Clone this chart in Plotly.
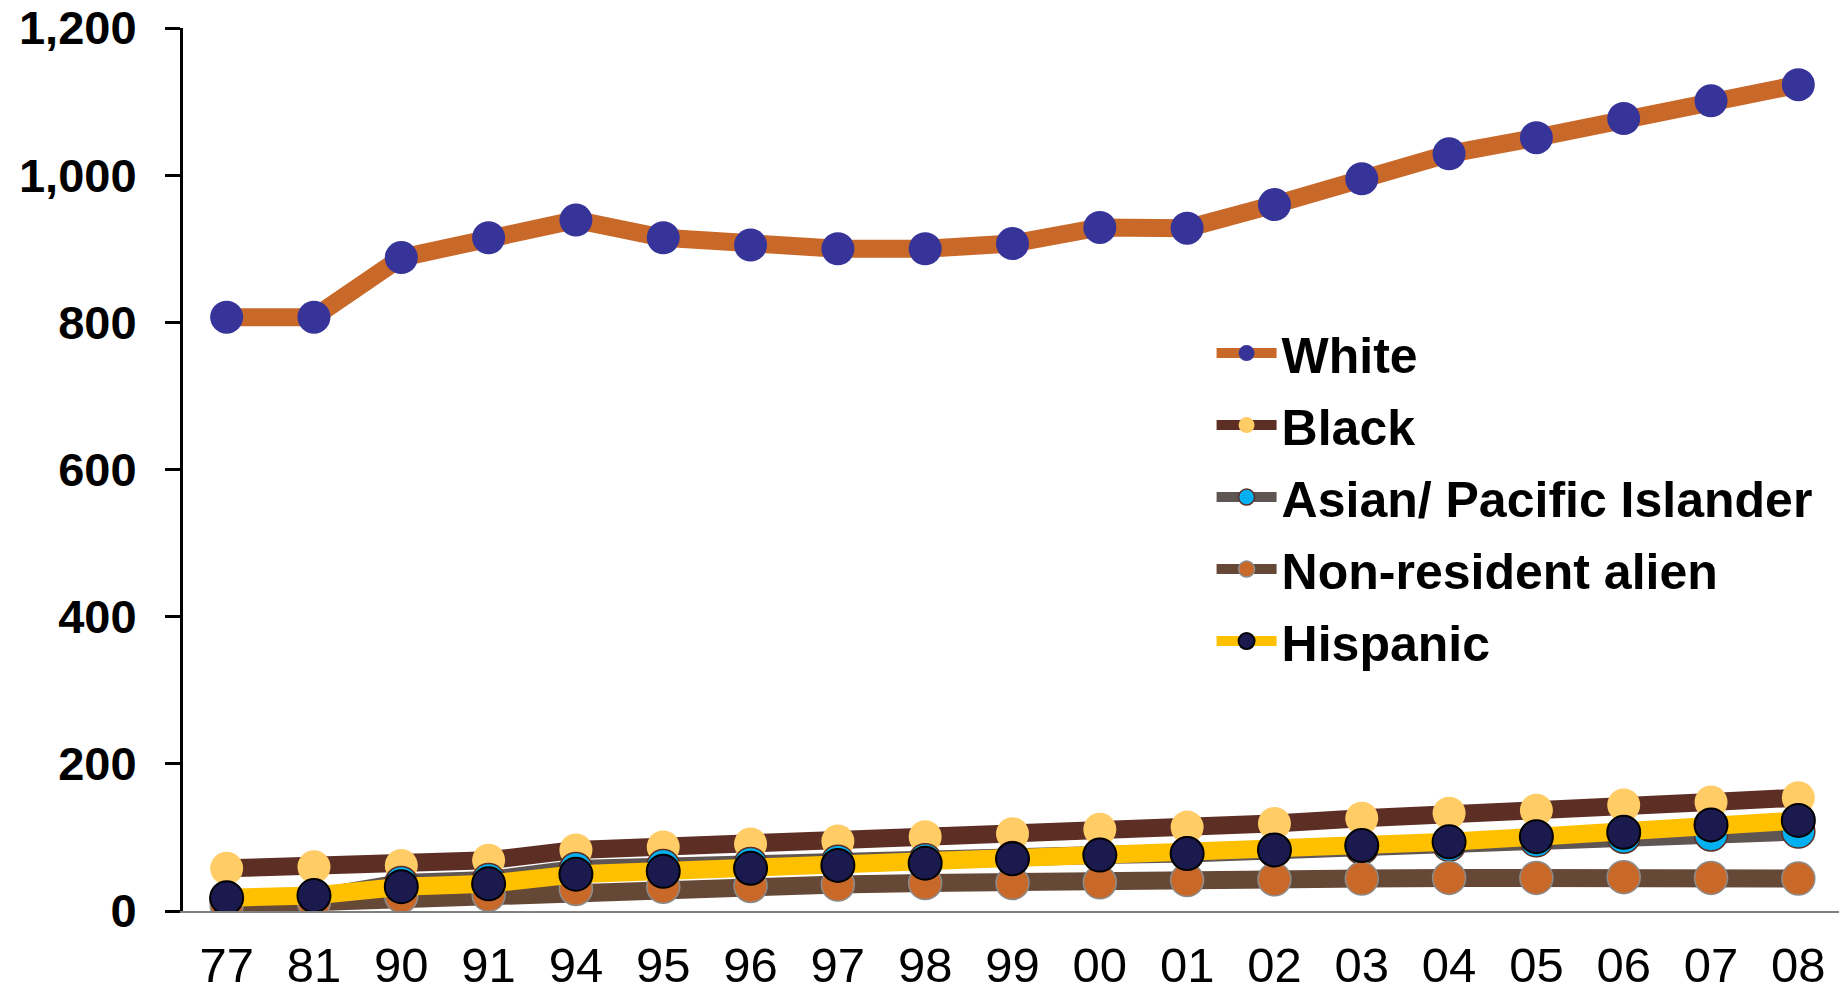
import plotly.graph_objects as go

# années (deux chiffres) et effectifs par groupe
years = ["77", "81", "90", "91", "94", "95", "96", "97", "98", "99",
         "00", "01", "02", "03", "04", "05", "06", "07", "08"]

white = [807, 807, 888, 915, 939, 915, 905, 900, 900, 907,
         929, 928, 960, 995, 1029, 1051, 1077, 1101, 1123]
black = [58, 60, 62, 69, 83, 87, 91, 95, 101, 105,
         111, 114, 119, 126, 133, 137, 144, 148, 154]
asian = [15, 18, 38, 42, 57, 61, 64, 67, 69, 72,
         76, 78, 82, 86, 90, 96, 101, 104, 108]
nonres = [8, 12, 20, 22, 30, 33, 34, 36, 38, 38,
          39, 42, 43, 44, 45, 45, 46, 45, 44]
hispanic = [18, 21, 33, 37, 50, 54, 58, 62, 65, 71,
            76, 78, 83, 89, 94, 101, 107, 117, 123]

names = ["White", "Black", "Asian/ Pacific Islander", "Non-resident alien", "Hispanic"]
series = [white, black, asian, nonres, hispanic]
line_cols = ["#C8692A", "#5C2E24", "#5F5553", "#654836", "#FFC000"]
mark_cols = ["#373499", "#FFCC66", "#00B0F0", "#C8692A", "#1B1A4F"]
mark_line = ["#373499", "#FFCC66", "#5C2E24", "#8C8C8C", "#000000"]
mark_lw = [0, 0, 1.5, 1.5, 2]

fig = go.Figure()
for i in range(len(names)):
    fig.add_trace(go.Scatter(
        x=years, y=series[i], name=names[i], mode="lines+markers",
        legendgroup=names[i],
        line=dict(color=line_cols[i], width=18),
        marker=dict(size=33, color=mark_cols[i],
                    line=dict(color=mark_line[i], width=mark_lw[i])),
    ))

# la page html a une marge de 8 px autour du graphique
fig.update_layout(
    width=1839, height=979,
    plot_bgcolor="white", paper_bgcolor="white",
    margin=dict(l=175, r=5, t=20, b=76),
    font=dict(family="Liberation Sans, Arial, sans-serif", color="black"),
    legend=dict(x=0.62, y=0.676, xanchor="left", yanchor="top",
                traceorder="grouped", tracegroupgap=4,
                font=dict(size=50, weight="bold"),
                bgcolor="rgba(0,0,0,0)", itemwidth=60),
    xaxis=dict(type="category", range=[-0.5, 18.5], automargin=False,
               showline=True, linecolor="#808080", linewidth=2,
               ticks="", showgrid=False, zeroline=False,
               ticklabelstandoff=10, ticklabeloverflow="allow",
               tickfont=dict(size=49, family="Liberation Sans Narrow, Arial Narrow, Liberation Sans")),
    yaxis=dict(range=[0, 1200], dtick=200, tickformat=",d", automargin=False,
               showline=True, linecolor="black", linewidth=3,
               ticks="outside", ticklen=15, tickwidth=3, tickcolor="black",
               showgrid=False, zeroline=False,
               ticklabelstandoff=19, ticklabeloverflow="allow",
               tickfont=dict(size=47, family="Liberation Sans", weight="bold")),
)

fig.write_html("out.html")
